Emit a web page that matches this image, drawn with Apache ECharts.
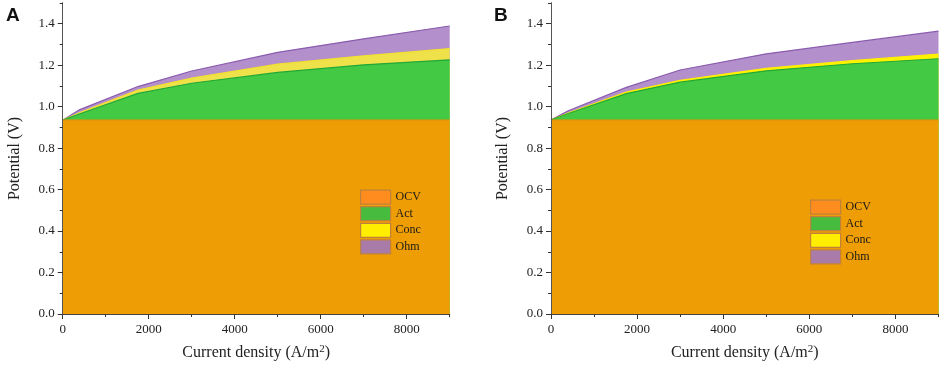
<!DOCTYPE html>
<html>
<head>
<meta charset="utf-8">
<script src="https://cdn.jsdelivr.net/npm/echarts@6/dist/echarts.min.js"></script>
<style>html,body{margin:0;padding:0;background:#fff}#c{width:941px;height:369px}</style>
</head>
<body>
<div id="c"></div>
<script>
// ---- data ----
const currentDensity = [0, 400, 1750, 3000, 5000, 7000, 9000];
const ocvLevel = 0.935;
// Panel A: cumulative potentials (top of each band)
const actA  = [0.935, 0.966, 1.064, 1.113, 1.165, 1.202, 1.226];
const concA = [0.935, 0.972, 1.080, 1.138, 1.205, 1.245, 1.280];
const ohmA  = [0.935, 0.986, 1.097, 1.172, 1.262, 1.327, 1.389];
// Panel B
const actB  = [0.935, 0.967, 1.063, 1.118, 1.173, 1.207, 1.231];
const concB = [0.935, 0.969, 1.070, 1.127, 1.185, 1.222, 1.254];
const ohmB  = [0.935, 0.980, 1.093, 1.177, 1.255, 1.310, 1.364];
const legendNames = ['OCV', 'Act', 'Conc', 'Ohm'];
const panelLabels = ['A', 'B'];
const xTitle = 'Current density (A/m';
const yTitle = 'Potential (V)';

const SERIF = '"Liberation Serif", "Times New Roman", serif';
const pair = (xs, ys) => xs.map((x, i) => [x, ys[i]]);

const fills = {
  OCV: { area: '#EF9D05', line: '#F39000' },
  Act: { area: '#43C943', line: '#22A838' },
  Conc: { area: ['#EEE14A', '#FFF200'], line: ['#F2E030', '#FFF000'] },
  Ohm: { area: '#B38FCB', line: '#8A5CAE' }
};
const legendSwatch = {
  OCV: '#FF8C1E', Act: '#46BB3E', Conc: '#FFEE00', Ohm: '#A97BA9'
};

const grids = [
  { left: 62.7, top: 3, width: 387, height: 311 },
  { left: 551, top: 3, width: 387.5, height: 311 }
];

const xAxes = [], yAxes = [], series = [], legends = [], graphics = [];
const panelData = [
  { act: actA, conc: concA, ohm: ohmA, legend: { left: 360, top: 189.5 } },
  { act: actB, conc: concB, ohm: ohmB, legend: { left: 810, top: 199.5 } }
];

panelData.forEach((p, g) => {
  const base = {
    gridIndex: g, type: 'value', min: 0, splitLine: { show: false }, z: 5
  };
  // major x
  xAxes.push(Object.assign({}, base, {
    max: 9000, interval: 2000, position: 'bottom',
    axisLine: { show: true, lineStyle: { color: '#333', width: 1 } },
    axisTick: { show: true, inside: false, length: 5, lineStyle: { color: '#333' } },
    axisLabel: { show: true, margin: 9, showMaxLabel: false, color: '#222', fontFamily: SERIF, fontSize: 13,
      formatter: v => String(v) },
    name: '{a|' + xTitle + '}{s|2}{a|)}', nameLocation: 'middle', nameGap: 30,
    nameTextStyle: {
      rich: {
        a: { fontFamily: SERIF, fontSize: 16, color: '#222' },
        s: { fontFamily: SERIF, fontSize: 11, color: '#222', verticalAlign: 'top', padding: [0, 0, 6, 0] }
      }
    }
  }));
  // minor x
  xAxes.push(Object.assign({}, base, {
    max: 9000, interval: 1000, position: 'bottom', offset: 0,
    axisLine: { show: false },
    axisTick: { show: true, inside: false, length: 3, lineStyle: { color: '#333' } },
    axisLabel: { show: false }
  }));
  // top border
  xAxes.push(Object.assign({}, base, {
    max: 9000, position: 'top',
    axisLine: { show: true, lineStyle: { color: '#444', width: 1 } },
    axisTick: { show: false }, axisLabel: { show: false }
  }));
  // major y
  yAxes.push(Object.assign({}, base, {
    max: 1.5, interval: 0.2, position: 'left',
    axisLine: { show: true, lineStyle: { color: '#333', width: 1 } },
    axisTick: { show: true, inside: false, length: 5, lineStyle: { color: '#333' } },
    axisLabel: { show: true, margin: 8, showMaxLabel: false, color: '#222', fontFamily: SERIF, fontSize: 13,
      formatter: v => v.toFixed(1) },
    name: yTitle, nameLocation: 'middle', nameGap: 40,
    nameTextStyle: { fontFamily: SERIF, fontSize: 16, color: '#222' }
  }));
  // minor y
  yAxes.push(Object.assign({}, base, {
    max: 1.5, interval: 0.1, position: 'left', offset: 0,
    axisLine: { show: false },
    axisTick: { show: true, inside: false, length: 3, lineStyle: { color: '#333' } },
    axisLabel: { show: false }
  }));
  // right border
  yAxes.push(Object.assign({}, base, {
    max: 1.5, position: 'right',
    axisLine: { show: true, lineStyle: { color: '#555', width: 1 } },
    axisTick: { show: false }, axisLabel: { show: false }
  }));

  const xi = g * 3, yi = g * 3;
  const mk = (name, data, area, line) => ({
    name, type: 'line', xAxisIndex: xi, yAxisIndex: yi, data,
    symbol: 'none', silent: true, animation: false,
    lineStyle: { color: line, width: 1.2 },
    itemStyle: { color: area },
    areaStyle: { color: area, opacity: 1, origin: 'start' }
  });
  series.push(mk('Ohm', pair(currentDensity, p.ohm), fills.Ohm.area, fills.Ohm.line));
  series.push(mk('Conc', pair(currentDensity, p.conc), fills.Conc.area[g], fills.Conc.line[g]));
  series.push(mk('Act', pair(currentDensity, p.act), fills.Act.area, fills.Act.line));
  series.push(mk('OCV', [[currentDensity[0], ocvLevel], [currentDensity[currentDensity.length - 1], ocvLevel]],
    fills.OCV.area, fills.OCV.line));

  legends.push({
    left: p.legend.left, top: p.legend.top, orient: 'vertical', padding: 0,
    itemWidth: 30, itemHeight: 14, itemGap: 1.4, icon: 'rect', selectedMode: false,
    textStyle: { fontFamily: SERIF, fontSize: 12, color: '#1a1a1a', lineHeight: 14 },
    data: legendNames.map(n => ({
      name: n, icon: 'rect',
      itemStyle: { color: legendSwatch[n], borderColor: '#C0823A', borderWidth: 1.2 }
    }))
  });

  graphics.push({
    type: 'text', left: g === 0 ? 6 : 494, top: 6,
    style: { text: panelLabels[g], font: 'bold 19px "Liberation Sans", Arial, sans-serif', fill: '#111' }
  });
});

const chart = echarts.init(document.getElementById('c'), null, { renderer: 'canvas' });
chart.setOption({
  animation: false,
  backgroundColor: '#fff',
  grid: grids,
  xAxis: xAxes,
  yAxis: yAxes,
  legend: legends,
  series: series,
  graphic: graphics
});
</script>
</body>
</html>
